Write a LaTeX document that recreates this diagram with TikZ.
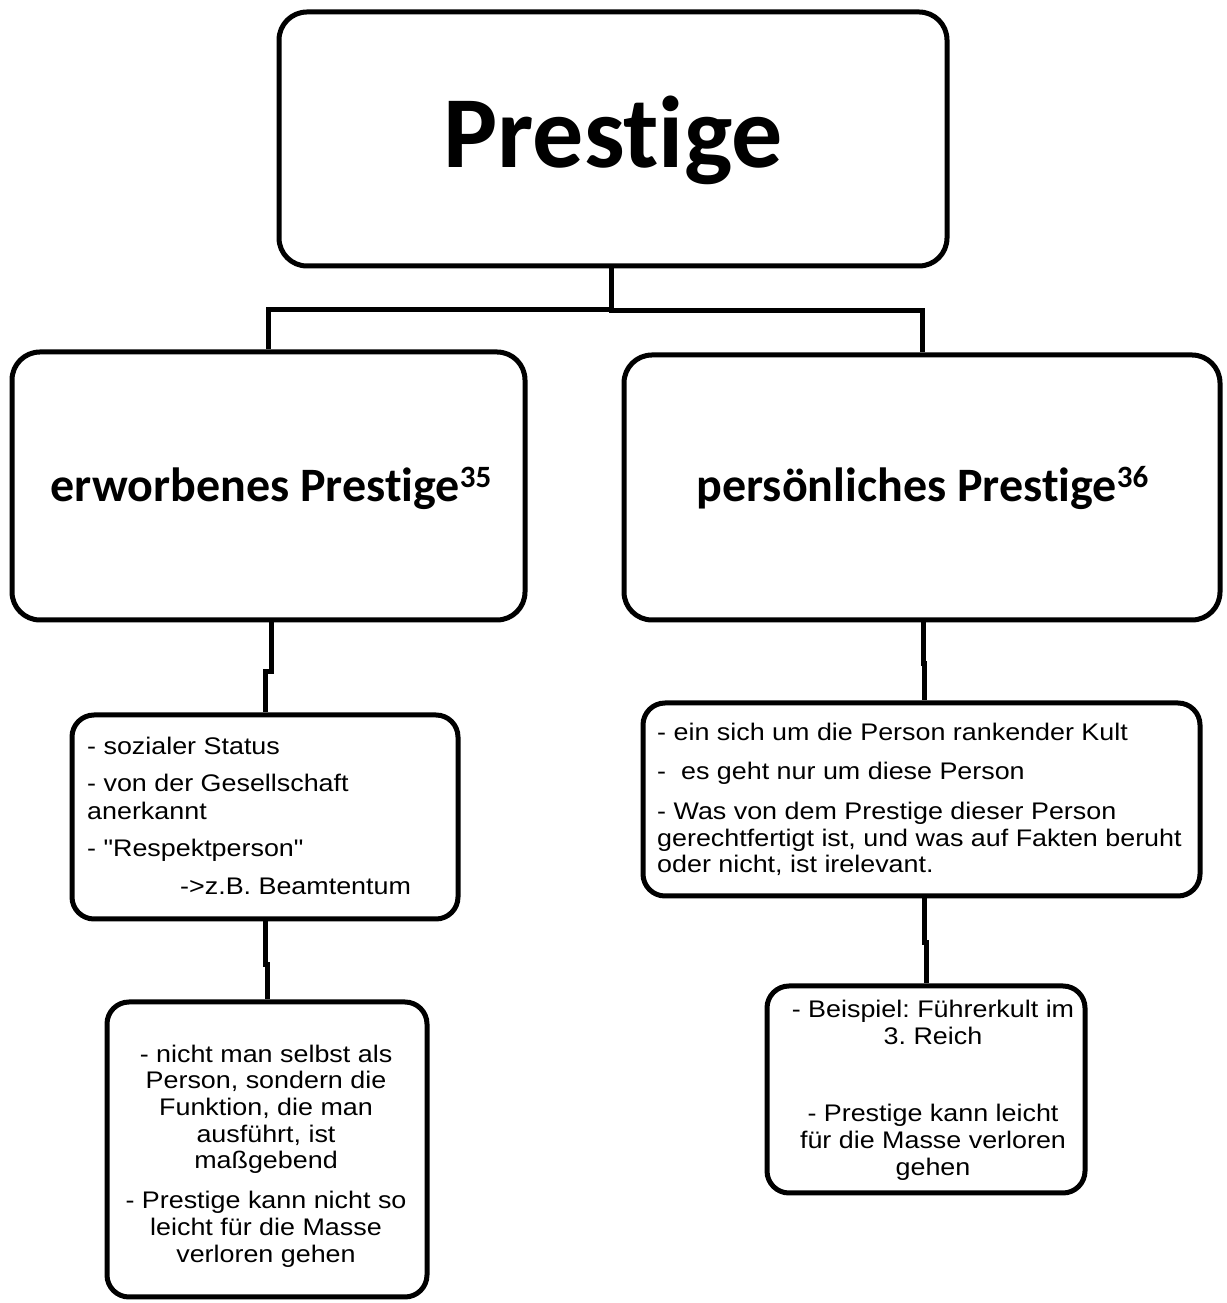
\documentclass[tikz,border=0pt]{standalone}
\usepackage{fontspec}
\newfontfamily\bodyf[FakeStretch=1.12]{Liberation Sans}
\newfontfamily\headf[Ligatures=NoCommon]{Carlito}
\frenchspacing
\begin{document}
\begin{tikzpicture}[x=1pt,y=1pt,
  box/.style={draw, line width=5pt, rounded corners=28pt, inner sep=0pt},
  smallbox/.style={box, rounded corners=22pt},
  conn/.style={line width=5pt},
  body/.style={inner sep=0pt, font=\bodyf\fontsize{24}{27}\selectfont\frenchspacing},
  bl/.style={body, anchor=base west},
  bc/.style={body, anchor=base},
  head/.style={inner sep=0pt, anchor=base, font=\headf\bfseries\fontsize{48}{52}\selectfont},
]
\useasboundingbox (0,0) rectangle (1226,1303);
\fill[white] (0,0) rectangle (1226,1303);

% boxes
\node[box, minimum width=668pt, minimum height=254pt] (top) at (613,1164) {};
\node[box, minimum width=513pt, minimum height=268pt] (lbox) at (268.5,817) {};
\node[box, minimum width=596pt, minimum height=265pt] (rbox) at (922,815.5) {};
\node[smallbox, minimum width=386pt, minimum height=204pt] (lmid) at (265,486) {};
\node[smallbox, minimum width=557pt, minimum height=193pt] (rmid) at (921.5,503.5) {};
\node[smallbox, minimum width=320pt, minimum height=295pt] (llow) at (267,153.5) {};
\node[smallbox, minimum width=318pt, minimum height=207pt] (rlow) at (926,213.5) {};

% headings
\node[inner sep=0pt, anchor=base, font=\headf\bfseries\fontsize{102}{110}\selectfont] (title) at (613,1135) {Prestige};
\node[head] (lhead) at (271,801) {erworbenes Prestige\raisebox{14pt}{\fontsize{31}{31}\selectfont 35}};
\node[head] (rhead) at (922.5,801) {persönliches Prestige\raisebox{14pt}{\fontsize{31}{31}\selectfont 36}};

% left middle text
\node[bl] (lm1) at (87,548) {- sozialer Status};
\node[bl] (lm2) at (87,511) {- von der Gesellschaft};
\node[bl] (lm3) at (87,483) {anerkannt};
\node[bl] (lm4) at (87,446) {- "Respektperson"};
\node[bl] (lm5) at (180,408) {->z.B. Beamtentum};

% right middle text
\node[bl] (rm1) at (657,562) {- ein sich um die Person rankender Kult};
\node[bl] (rm2) at (657,523) {-\ \ es geht nur um diese Person};
\node[bl] (rm3) at (657,483) {- Was von dem Prestige dieser Person};
\node[bl] (rm4) at (657,456) {gerechtfertigt ist, und was auf Fakten beruht};
\node[bl] (rm5) at (657,430) {oder nicht, ist irelevant.};

% left lower text
\node[bc] (ll1) at (266,240) {- nicht man selbst als};
\node[bc] (ll2) at (266,214) {Person, sondern die};
\node[bc] (ll3) at (266,187) {Funktion, die man};
\node[bc] (ll4) at (266,160) {ausführt, ist};
\node[bc] (ll5) at (266,134) {maßgebend};
\node[bc] (ll6) at (266,94) {- Prestige kann nicht so};
\node[bc] (ll7) at (266,67) {leicht für die Masse};
\node[bc] (ll8) at (266,40) {verloren gehen};

% right lower text
\node[bc] (rl1) at (933,285) {- Beispiel: Führerkult im};
\node[bc] (rl2) at (933,258) {3. Reich};
\node[bc] (rl3) at (933,181) {- Prestige kann leicht};
\node[bc] (rl4) at (933,154) {für die Masse verloren};
\node[bc] (rl5) at (933,127) {gehen};

% connectors
\coordinate (jt) at (611,993);
\draw[conn] (top.south -| jt) -- (jt) -| (lbox.north);
\draw[conn] (jt) -- (611,992) -| (rbox.north);
\draw[conn] ([xshift=2.5pt]lbox.south) -- ++(0,-49) -| (lmid.north);
\draw[conn] ([xshift=1pt]rbox.south) -- ++(0,-41) -| ([xshift=3pt]rmid.north);
\draw[conn] (lmid.south) -- ++(0,-43) -| (llow.north);
\draw[conn] ([xshift=2.5pt]rmid.south) -- ++(0,-44) -| (rlow.north);
\end{tikzpicture}
\end{document}
